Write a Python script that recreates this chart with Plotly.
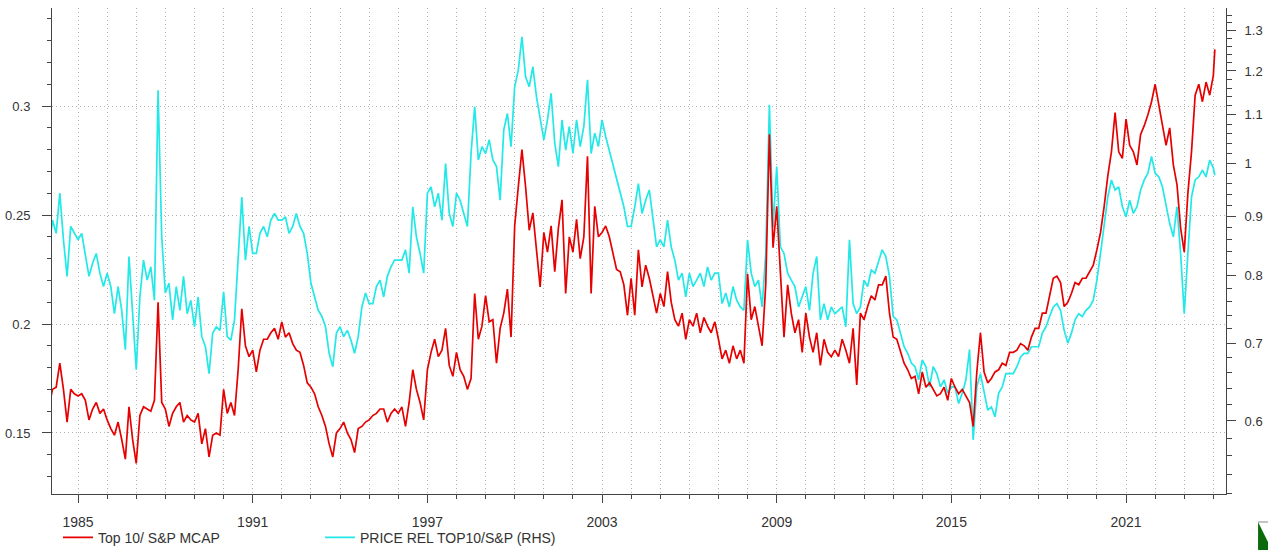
import numpy as np
import pandas as pd
import plotly.graph_objects as go

# ---------------- data (8 readings per year, 1984 .. 2023, plus two final points) ----------------
start_year = 1984
end_year = 2023
final_dates = ["2024-01-01", "2024-01-20"]

# Top 10 / S&P 500 market-cap share (left axis)
red_values = [
    0.162, 0.170, 0.171, 0.182, 0.170, 0.155, 0.170, 0.168,  # 1984
    0.167, 0.168, 0.165, 0.156, 0.161, 0.164, 0.159, 0.161,  # 1985
    0.156, 0.152, 0.149, 0.155, 0.147, 0.138, 0.162, 0.147,  # 1986
    0.136, 0.158, 0.162, 0.161, 0.160, 0.165, 0.210, 0.164,  # 1987
    0.161, 0.153, 0.159, 0.162, 0.164, 0.155, 0.158, 0.156,  # 1988
    0.155, 0.159, 0.145, 0.152, 0.139, 0.149, 0.150, 0.149,  # 1989
    0.170, 0.159, 0.164, 0.158, 0.179, 0.207, 0.190, 0.185,  # 1990
    0.188, 0.178, 0.188, 0.193, 0.193, 0.196, 0.198, 0.193,  # 1991
    0.201, 0.194, 0.196, 0.191, 0.188, 0.187, 0.181, 0.173,  # 1992
    0.171, 0.168, 0.162, 0.158, 0.153, 0.145, 0.139, 0.150,  # 1993
    0.152, 0.155, 0.150, 0.147, 0.141, 0.152, 0.153, 0.155,  # 1994
    0.156, 0.158, 0.159, 0.161, 0.161, 0.155, 0.159, 0.161,  # 1995
    0.159, 0.162, 0.153, 0.164, 0.179, 0.170, 0.164, 0.156,  # 1996
    0.179, 0.187, 0.193, 0.185, 0.188, 0.198, 0.181, 0.176,  # 1997
    0.187, 0.179, 0.176, 0.170, 0.175, 0.214, 0.193, 0.199,  # 1998
    0.213, 0.201, 0.202, 0.182, 0.198, 0.205, 0.216, 0.194,  # 1999
    0.245, 0.263, 0.280, 0.263, 0.243, 0.251, 0.233, 0.217,  # 2000
    0.242, 0.233, 0.245, 0.224, 0.244, 0.257, 0.214, 0.240,  # 2001
    0.233, 0.248, 0.230, 0.240, 0.277, 0.214, 0.254, 0.240,  # 2002
    0.242, 0.245, 0.240, 0.233, 0.225, 0.224, 0.218, 0.204,  # 2003
    0.221, 0.204, 0.234, 0.217, 0.227, 0.221, 0.213, 0.205,  # 2004
    0.214, 0.208, 0.224, 0.210, 0.202, 0.199, 0.205, 0.193,  # 2005
    0.202, 0.199, 0.205, 0.196, 0.203, 0.199, 0.196, 0.201,  # 2006
    0.193, 0.184, 0.188, 0.182, 0.190, 0.184, 0.188, 0.182,  # 2007
    0.223, 0.202, 0.208, 0.199, 0.190, 0.218, 0.287, 0.235,  # 2008
    0.254, 0.224, 0.194, 0.218, 0.205, 0.196, 0.202, 0.187,  # 2009
    0.205, 0.194, 0.187, 0.196, 0.181, 0.193, 0.187, 0.185,  # 2010
    0.188, 0.185, 0.193, 0.188, 0.182, 0.198, 0.172, 0.205,  # 2011
    0.202, 0.208, 0.213, 0.211, 0.218, 0.218, 0.222, 0.205,  # 2012
    0.194, 0.193, 0.187, 0.182, 0.179, 0.175, 0.176, 0.168,  # 2013
    0.178, 0.171, 0.173, 0.170, 0.167, 0.168, 0.171, 0.165,  # 2014
    0.175, 0.171, 0.168, 0.170, 0.167, 0.164, 0.153, 0.178,  # 2015
    0.196, 0.178, 0.173, 0.175, 0.178, 0.179, 0.182, 0.181,  # 2016
    0.187, 0.187, 0.188, 0.191, 0.190, 0.188, 0.194, 0.198,  # 2017
    0.198, 0.205, 0.205, 0.213, 0.221, 0.222, 0.219, 0.208,  # 2018
    0.210, 0.214, 0.219, 0.218, 0.221, 0.221, 0.224, 0.227,  # 2019
    0.234, 0.242, 0.254, 0.268, 0.279, 0.297, 0.279, 0.276,  # 2020
    0.294, 0.282, 0.279, 0.273, 0.287, 0.291, 0.296, 0.302,  # 2021
    0.310, 0.300, 0.291, 0.282, 0.290, 0.273, 0.264, 0.244,  # 2022
    0.233, 0.260, 0.279, 0.305, 0.310, 0.302, 0.311, 0.305,  # 2023
    0.314, 0.326,                                            # 2024
]

# Price relative Top 10 / S&P (right axis, log)
cyan_values = [
    0.842, 0.893, 0.870, 0.942, 0.859, 0.799, 0.882, 0.870,  # 1984
    0.859, 0.870, 0.836, 0.799, 0.820, 0.836, 0.804, 0.783,  # 1985
    0.804, 0.783, 0.742, 0.783, 0.747, 0.691, 0.831, 0.733,  # 1986
    0.664, 0.767, 0.825, 0.793, 0.814, 0.762, 1.155, 0.864,  # 1987
    0.773, 0.788, 0.733, 0.783, 0.747, 0.799, 0.742, 0.762,  # 1988
    0.723, 0.767, 0.709, 0.695, 0.659, 0.714, 0.723, 0.718,  # 1989
    0.775, 0.709, 0.704, 0.733, 0.836, 0.935, 0.825, 0.882,  # 1990
    0.836, 0.836, 0.870, 0.882, 0.864, 0.893, 0.905, 0.893,  # 1991
    0.893, 0.899, 0.870, 0.882, 0.905, 0.882, 0.870, 0.836,  # 1992
    0.788, 0.767, 0.747, 0.738, 0.723, 0.686, 0.668, 0.714,  # 1993
    0.723, 0.709, 0.718, 0.704, 0.686, 0.709, 0.752, 0.773,  # 1994
    0.757, 0.757, 0.783, 0.793, 0.767, 0.799, 0.814, 0.825,  # 1995
    0.825, 0.825, 0.842, 0.804, 0.917, 0.864, 0.836, 0.804,  # 1996
    0.942, 0.954, 0.917, 0.942, 0.893, 0.999, 0.905, 0.882,  # 1997
    0.942, 0.929, 0.905, 0.882, 1.019, 1.118, 1.006, 1.033,  # 1998
    1.019, 1.047, 1.006, 0.993, 0.929, 1.068, 1.103, 1.033,  # 1999
    1.163, 1.202, 1.284, 1.186, 1.163, 1.210, 1.140, 1.089,  # 2000
    1.047, 1.089, 1.148, 1.040, 0.993, 1.089, 1.026, 1.075,  # 2001
    1.019, 1.089, 1.033, 1.075, 1.179, 1.019, 1.061, 1.033,  # 2002
    1.089, 1.054, 1.026, 0.999, 0.967, 0.942, 0.917, 0.882,  # 2003
    0.882, 0.917, 0.960, 0.905, 0.929, 0.948, 0.893, 0.847,  # 2004
    0.859, 0.847, 0.893, 0.847, 0.825, 0.793, 0.804, 0.767,  # 2005
    0.804, 0.783, 0.793, 0.804, 0.783, 0.814, 0.793, 0.804,  # 2006
    0.804, 0.757, 0.773, 0.752, 0.783, 0.762, 0.752, 0.747,  # 2007
    0.859, 0.804, 0.783, 0.793, 0.752, 0.836, 1.122, 0.880,  # 2008
    0.993, 0.847, 0.836, 0.804, 0.793, 0.783, 0.752, 0.767,  # 2009
    0.783, 0.747, 0.804, 0.831, 0.733, 0.757, 0.733, 0.752,  # 2010
    0.742, 0.747, 0.752, 0.723, 0.859, 0.757, 0.742, 0.752,  # 2011
    0.793, 0.783, 0.809, 0.804, 0.825, 0.842, 0.831, 0.799,  # 2012
    0.738, 0.733, 0.714, 0.695, 0.686, 0.673, 0.668, 0.651,  # 2013
    0.677, 0.668, 0.642, 0.668, 0.659, 0.642, 0.651, 0.634,  # 2014
    0.642, 0.642, 0.621, 0.634, 0.651, 0.691, 0.578, 0.642,  # 2015
    0.659, 0.634, 0.613, 0.617, 0.605, 0.634, 0.642, 0.659,  # 2016
    0.659, 0.659, 0.668, 0.681, 0.686, 0.686, 0.695, 0.695,  # 2017
    0.695, 0.714, 0.723, 0.738, 0.752, 0.757, 0.747, 0.718,  # 2018
    0.700, 0.714, 0.733, 0.742, 0.738, 0.747, 0.752, 0.762,  # 2019
    0.793, 0.836, 0.887, 0.935, 0.967, 0.948, 0.954, 0.917,  # 2020
    0.899, 0.929, 0.905, 0.917, 0.948, 0.967, 0.980, 1.013,  # 2021
    0.980, 0.973, 0.954, 0.917, 0.887, 0.864, 0.917, 0.836,  # 2022
    0.742, 0.836, 0.935, 0.967, 0.973, 0.986, 0.973, 1.006,  # 2023
    0.990, 0.976,                                            # 2024
]

left_tickvals = [0.15, 0.2, 0.25, 0.3]
right_tickvals = [0.6, 0.7, 0.8, 0.9, 1.0, 1.1, 1.2, 1.3]
right_ticktext = ["0.6", "0.7", "0.8", "0.9", "1", "1.1", "1.2", "1.3"]
series_names = ["Top 10/ S&P MCAP", "PRICE REL TOP10/S&P (RHS)"]

# ---------------- dates ----------------
dates = []
for yr in range(start_year, end_year + 1):
    for k in range(8):
        dates.append(pd.Timestamp(yr, 1, 1) + pd.Timedelta(days=k * 365.25 / 8))
dates += [pd.Timestamp(d) for d in final_dates]

# ---------------- styling ----------------
FONT = "Liberation Sans, Arial, sans-serif"
AX = "#444444"
GRID = "#b4b4b4"
GDASH = "1px,3px"
RED = "#e60000"
CYAN = "#22e8e8"

x_range = ["1984-02-09", "2024-06-08"]
left_range = [0.1220, 0.3450]
right_range = [np.log10(0.5192), np.log10(1.3593)]
right_minor = [round(v, 2) for v in np.arange(0.52, 1.36, 0.02)]

fig = go.Figure()
fig.add_trace(go.Scatter(x=dates, y=cyan_values, name=series_names[1], mode="lines",
                         line=dict(color=CYAN, width=1.7), yaxis="y", legendrank=2))
fig.add_trace(go.Scatter(x=dates, y=red_values, name=series_names[0], mode="lines",
                         line=dict(color=RED, width=1.7), yaxis="y2", legendrank=1))

tickfont_x = dict(family=FONT, size=14, color="#333333")
tickfont_y = dict(family=FONT, size=13, color="#333333")

fig.update_layout(
    width=1268, height=550,
    margin=dict(l=52, r=42, t=8, b=56, autoexpand=False),
    paper_bgcolor="white", plot_bgcolor="white",
    showlegend=True,
    legend=dict(orientation="h", x=0.0051, y=-0.09, xanchor="left", yanchor="middle",
                font=dict(family=FONT, size=14, color="#333333"),
                entrywidth=217, entrywidthmode="pixels", bgcolor="rgba(0,0,0,0)"),
    xaxis=dict(type="date", range=x_range, anchor="y", automargin=False,
               tick0="1985-01-01", dtick="M72", tickformat="%Y",
               ticks="outside", ticklen=8, tickcolor=AX, tickwidth=1,
               showline=True, linecolor=AX, linewidth=1,
               showgrid=True, gridcolor=GRID, griddash=GDASH, gridwidth=1,
               tickfont=tickfont_x, zeroline=False, ticklabelstandoff=7,
               minor=dict(tick0="1985-01-01", dtick="M12", ticks="outside", ticklen=4,
                          tickcolor=AX, showgrid=True, gridcolor=GRID, griddash=GDASH)),
    xaxis2=dict(type="date", range=x_range, overlaying="x", anchor="y", side="bottom",
                automargin=False, tick0="1985-01-01", dtick="M72",
                ticks="inside", ticklen=8, tickcolor=AX, mirror="ticks",
                showline=True, linecolor=AX, showticklabels=False, showgrid=False,
                zeroline=False,
                minor=dict(tick0="1985-01-01", dtick="M12", ticks="inside", ticklen=4,
                           tickcolor=AX, showgrid=False)),
    # right log axis (base)
    yaxis=dict(type="log", range=right_range, side="right", anchor="x", automargin=False,
               tickmode="array", tickvals=right_tickvals, ticktext=right_ticktext,
               ticks="outside", ticklen=9, tickcolor=AX, showline=True, linecolor=AX,
               showgrid=False, zeroline=False, tickfont=tickfont_y, ticklabelstandoff=6,
               minor=dict(tickmode="array", tickvals=right_minor, ticks="outside",
                          ticklen=5, tickcolor=AX, showgrid=False)),
    yaxis4=dict(type="log", range=right_range, side="right", anchor="x", overlaying="y",
                automargin=False, tickmode="array", tickvals=right_tickvals,
                ticks="inside", ticklen=8, tickcolor=AX, showline=False,
                showticklabels=False, showgrid=False, zeroline=False,
                minor=dict(tickmode="array", tickvals=right_minor, ticks="inside",
                           ticklen=4, tickcolor=AX, showgrid=False)),
    # left linear axis
    yaxis2=dict(range=left_range, side="left", anchor="x", overlaying="y", automargin=False,
                tickmode="array", tickvals=left_tickvals,
                ticks="outside", ticklen=9, tickcolor=AX, showline=True, linecolor=AX,
                showgrid=True, gridcolor=GRID, griddash=GDASH, gridwidth=1,
                zeroline=False, tickfont=tickfont_y, ticklabelstandoff=9,
                minor=dict(dtick=0.01, tick0=0.12, ticks="outside", ticklen=4,
                           tickcolor=AX, showgrid=False)),
    yaxis3=dict(range=left_range, side="left", anchor="x", overlaying="y", automargin=False,
                tickmode="array", tickvals=left_tickvals,
                ticks="inside", ticklen=8, tickcolor=AX, showline=False,
                showticklabels=False, showgrid=False, zeroline=False,
                minor=dict(dtick=0.01, tick0=0.12, ticks="inside", ticklen=4,
                           tickcolor=AX, showgrid=False)),
)

# small green corner logo mark (bottom right)
fig.add_shape(type="path", xref="paper", yref="paper",
              path="M 1.0273,-0.0576 L 1.0273,-0.1152 L 1.0370,-0.1152 L 1.0370,-0.105 Z",
              fillcolor="#0b6b0b", line=dict(width=0))
fig.add_shape(type="line", xref="paper", yref="paper",
              x0=1.0273, x1=1.0370, y0=-0.0576, y1=-0.0576,
              line=dict(color="#888888", width=1))

# remove the default 8px page margin so the figure sits at the window origin
fig.write_html("out.html", config={"displayModeBar": False},
               post_script="document.body.style.margin='0';document.body.style.overflow='hidden';")
